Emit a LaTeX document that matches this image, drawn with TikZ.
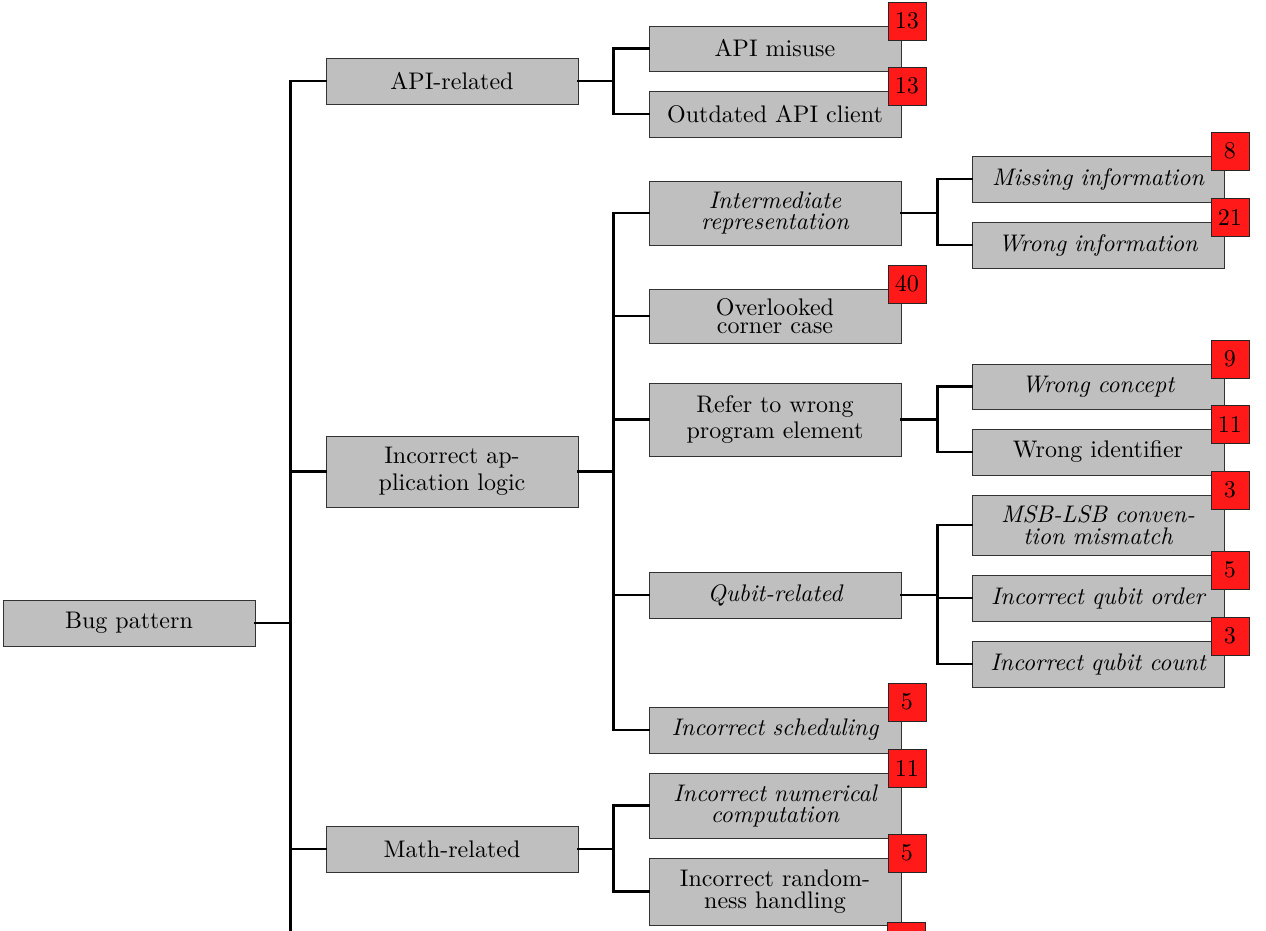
\documentclass[tikz,border=0pt]{standalone}
\usepackage{fontspec}
\setmainfont{lmroman10-regular.otf}[BoldFont=lmroman10-bold.otf, ItalicFont=lmroman10-italic.otf, BoldItalicFont=lmroman10-bolditalic.otf]
\usetikzlibrary{positioning}
\tikzset{
  catbox/.style={draw=black!80, line width=0.9pt, fill=black!25, minimum width=252pt,
    minimum height=46pt, inner sep=2pt, align=center, text width=246pt,
    font=\fontsize{24}{27}\selectfont},
  badge/.style={draw=black!85, line width=0.9pt, fill=red!90, minimum width=38pt,
    minimum height=38pt, inner sep=0pt, font=\fontsize{24}{27}\selectfont},
  conn/.style={line width=2.4pt, line cap=rect},
}
\newcommand{\bdg}[3]{\node[badge, xshift=5.5pt, yshift=4.5pt] (#1) at (#2.north east) {#3};}
\begin{document}
\begin{tikzpicture}[x=1pt,y=-1pt]
\useasboundingbox (0,0) rectangle (1266,931);
% level 0
\node[catbox] (bug) at (129,623) {Bug pattern};
% level 1
\node[catbox] (api) at (452,81) {API-related};
\node[catbox, minimum height=71pt] (logic) at (452,471.5) {Incorrect ap-\\plication logic};
\node[catbox] (math) at (452,849) {Math-related};
% level 2
\node[catbox, minimum height=45pt] (misuse) at (775,48.5) {API misuse};
\node[catbox] (outdated) at (775,114) {Outdated API client};
\node[catbox, minimum height=64pt, font=\fontsize{24}{21}\selectfont\itshape] (ir) at (775,213) {Intermediate\\representation};
\node[catbox, minimum height=54pt, font=\fontsize{24}{18}\selectfont] (corner) at (775,316) {Overlooked\\corner case};
\node[catbox, minimum height=73pt, font=\fontsize{24}{26}\selectfont] (refer) at (775,419.5) {Refer to wrong\\program element};
\node[catbox, font=\fontsize{24}{27}\selectfont\itshape] (qubit) at (775,595) {Qubit-related};
\node[catbox, font=\fontsize{24}{27}\selectfont\itshape] (sched) at (775,730) {Incorrect scheduling};
\node[catbox, minimum height=65pt, font=\fontsize{24}{21}\selectfont\itshape] (numer) at (775,805.5) {Incorrect numerical\\computation};
\node[catbox, minimum height=67pt, font=\fontsize{24}{22}\selectfont] (random) at (775,891.5) {Incorrect random-\\ness handling};
% level 3
\node[catbox, font=\fontsize{24}{27}\selectfont\itshape] (missing) at (1098,179) {Missing information};
\node[catbox, font=\fontsize{24}{27}\selectfont\itshape] (wronginfo) at (1098,245) {Wrong information};
\node[catbox, minimum height=45pt, font=\fontsize{24}{27}\selectfont\itshape] (concept) at (1098,386.5) {Wrong concept};
\node[catbox] (ident) at (1098,452) {Wrong identifier};
\node[catbox, minimum height=60pt, font=\fontsize{24}{22}\selectfont\itshape] (msb) at (1098,525) {MSB-LSB conven-\\tion mismatch};
\node[catbox, font=\fontsize{24}{27}\selectfont\itshape] (order) at (1098,598) {Incorrect qubit order};
\node[catbox, font=\fontsize{24}{27}\selectfont\itshape] (count) at (1098,664) {Incorrect qubit count};
% badges
\bdg{b1}{misuse}{13}
\bdg{b2}{outdated}{13}
\bdg{b3}{missing}{8}
\bdg{b4}{wronginfo}{21}
\bdg{b5}{corner}{40}
\bdg{b6}{concept}{9}
\bdg{b7}{ident}{11}
\bdg{b8}{msb}{3}
\bdg{b9}{order}{5}
\bdg{b10}{count}{3}
\bdg{b11}{sched}{5}
\bdg{b12}{numer}{11}
\bdg{b13}{random}{5}
\node[badge] (b14) at (906.5,941) {};
\coordinate (trunkend) at (290,945);
% connectors
\foreach \c in {api,logic,math} \draw[conn] (bug.east) -- ++(35,0) |- (\c.west);
\draw[conn] (bug.east) -- ++(35,0) |- (trunkend);
\foreach \c in {misuse,outdated} \draw[conn] (api.east) -- ++(35,0) |- (\c.west);
\foreach \c in {ir,corner,refer,qubit,sched} \draw[conn] (logic.east) -- ++(35,0) |- (\c.west);
\foreach \c in {numer,random} \draw[conn] (math.east) -- ++(35,0) |- (\c.west);
\foreach \c in {missing,wronginfo} \draw[conn] (ir.east) -- ++(36,0) |- (\c.west);
\foreach \c in {concept,ident} \draw[conn] (refer.east) -- ++(36,0) |- (\c.west);
\foreach \c in {msb,order,count} \draw[conn] (qubit.east) -- ++(36,0) |- (\c.west);
\end{tikzpicture}
\end{document}
